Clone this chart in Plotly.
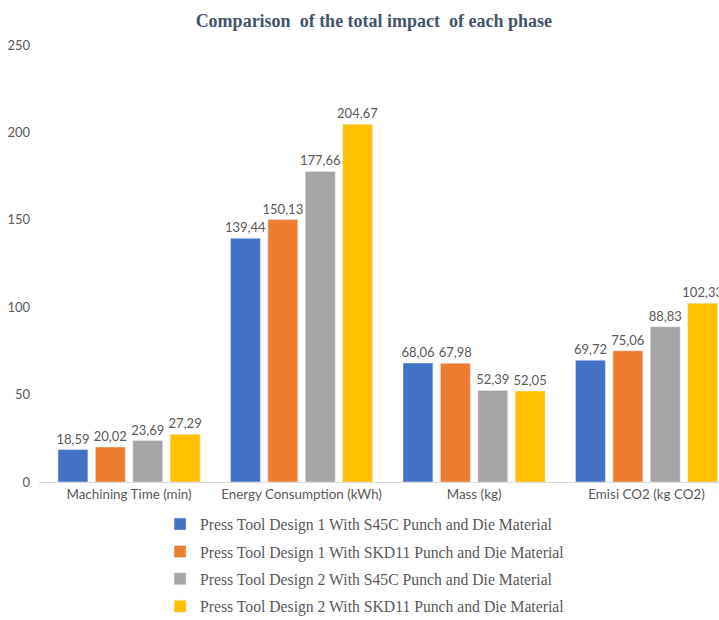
import plotly.graph_objects as go

categories = ["Machining Time (min)", "Energy Consumption (kWh)", "Mass (kg)", "Emisi CO2 (kg CO2)"]
series_names = [
    "Press Tool Design 1 With S45C Punch and Die Material",
    "Press Tool Design 1 With SKD11 Punch and Die Material",
    "Press Tool Design 2 With S45C Punch and Die Material",
    "Press Tool Design 2 With SKD11 Punch and Die Material",
]
d1_s45c = [18.59, 139.44, 68.06, 69.72]
d1_skd11 = [20.02, 150.13, 67.98, 75.06]
d2_s45c = [23.69, 177.66, 52.39, 88.83]
d2_skd11 = [27.29, 204.67, 52.05, 102.33]
colors = ["#4472C4", "#ED7D31", "#A5A5A5", "#FFC000"]
y_ticks = [0, 50, 100, 150, 200, 250]

sans = "Lato, Open Sans, sans-serif"
serif = "Liberation Serif, Times New Roman, serif"

fig = go.Figure()
for i, (name, vals, col) in enumerate(zip(series_names, [d1_s45c, d1_skd11, d2_s45c, d2_skd11], colors)):
    fig.add_trace(go.Bar(
        x=categories, y=vals, name=name, marker_color=col,
        texttemplate="%{y:.2f}", textposition="outside", constraintext="none",
        textfont=dict(family=sans, size=13, color="#595959"),
        cliponaxis=True, legendgroup=f"g{i}",
    ))

fig.update_layout(
    width=719, height=620,
    margin=dict(l=39, r=0, t=45, b=138, autoexpand=False),
    paper_bgcolor="white", plot_bgcolor="white",
    separators=",.",
    barmode="group", bargap=0.133, bargroupgap=0.2,
    title=dict(text="<b>Comparison  of the total impact  of each phase</b>",
               x=0.52, xanchor="center", y=0.967, yanchor="middle",
               font=dict(family=serif, size=18, color="#44546A")),
    xaxis=dict(range=[-0.522, 3.42], showline=True, linecolor="#D9D9D9", linewidth=1,
               ticks="", tickfont=dict(family=sans, size=13.4, color="#595959")),
    yaxis=dict(range=[0, 250], tickvals=y_ticks, showgrid=False, zeroline=False,
               ticklabelstandoff=8,
               tickfont=dict(family=sans, size=13, color="#595959")),
    showlegend=True,
    legend=dict(x=0.178, y=-0.058, xanchor="left", yanchor="top", orientation="v",
                font=dict(family=serif, size=15.7, color="#595959"),
                itemwidth=30, tracegroupgap=4, bgcolor="rgba(0,0,0,0)"),
)

fig.write_html("out.html")
